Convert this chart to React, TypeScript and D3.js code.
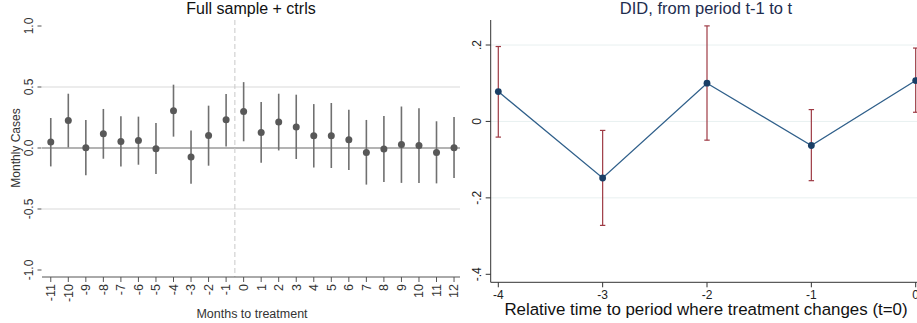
import React from 'react';
import * as d3 from 'd3';

// left panel: event study, monthly cases
const months = [-11, -10, -9, -8, -7, -6, -5, -4, -3, -2, -1, 0, 1, 2, 3, 4, 5, 6, 7, 8, 9, 10, 11, 12];
const coef = [0.049, 0.226, 0.002, 0.117, 0.054, 0.062, -0.006, 0.306, -0.074, 0.103, 0.232, 0.3, 0.128, 0.213, 0.172, 0.1, 0.1, 0.068, -0.036, -0.008, 0.028, 0.02, -0.036, 0.003];
const ciHi = [0.246, 0.445, 0.23, 0.32, 0.26, 0.257, 0.205, 0.519, 0.144, 0.347, 0.443, 0.54, 0.377, 0.445, 0.437, 0.36, 0.369, 0.314, 0.23, 0.262, 0.34, 0.326, 0.219, 0.255];
const ciLo = [-0.151, 0.005, -0.224, -0.088, -0.151, -0.137, -0.213, 0.093, -0.293, -0.145, 0.013, 0.055, -0.12, -0.02, -0.09, -0.16, -0.164, -0.18, -0.3, -0.278, -0.286, -0.286, -0.29, -0.246];
const leftTicks = [-1, -0.5, 0, 0.5, 1];

// right panel: DID t-1 to t
const relTime = [-4, -3, -2, -1, 0];
const did = [0.078, -0.148, 0.1, -0.063, 0.107];
const didHi = [0.196, -0.0235, 0.25, 0.031, 0.192];
const didLo = [-0.041, -0.272, -0.049, -0.155, 0.024];
const rightTicks = [-0.4, -0.2, 0, 0.2];
const rightTickLabels = ['-.4', '-.2', '0', '.2'];

const font = '"Liberation Sans", Arial, Helvetica, sans-serif';

function LeftPanel() {
  const x = d3.scaleLinear().domain([-11.5, 12.34]).range([42, 460]);
  const y = d3.scaleLinear().domain([-1, 1]).range([270, 26]);
  const top = 20, bottom = 277;
  return (
    <g>
      <text x={251} y={14} textAnchor="middle" fontSize={16} fill="#111">Full sample + ctrls</text>
      {[0.5, -0.5].map(v => (
        <line key={v} x1={42} x2={460} y1={y(v)} y2={y(v)} stroke="#e6e6e6" strokeWidth={1.5} />
      ))}
      <line x1={42} x2={460} y1={y(0)} y2={y(0)} stroke="#9a9a9a" strokeWidth={1.5} />
      <line x1={x(-0.5)} x2={x(-0.5)} y1={top} y2={bottom} stroke="#c8c8c8" strokeWidth={1} strokeDasharray="5,3" />
      {leftTicks.map(v => (
        <g key={v}>
          <line x1={37.5} x2={41.5} y1={y(v)} y2={y(v)} stroke="#555" />
          <text transform={`translate(33,${y(v)}) rotate(-90)`} textAnchor="middle" fontSize={12} fill="#333">{v.toFixed(1)}</text>
        </g>
      ))}
      <text transform={`translate(20,148) rotate(-90)`} textAnchor="middle" fontSize={12} fill="#333">Monthly Cases</text>
      <line x1={42} x2={460} y1={bottom} y2={bottom} stroke="#555" strokeWidth={1} />
      {months.map(m => (
        <g key={m}>
          <line x1={x(m)} x2={x(m)} y1={bottom} y2={bottom + 5} stroke="#555" />
          <text transform={`translate(${x(m)},${bottom + 7}) rotate(-90)`} textAnchor="end" dy="0.35em" fontSize={12.5} fill="#333">{m}</text>
        </g>
      ))}
      <text x={252} y={318} textAnchor="middle" fontSize={12.5} fill="#333">Months to treatment</text>
      {months.map((m, i) => (
        <line key={'ci' + m} x1={x(m)} x2={x(m)} y1={y(ciHi[i])} y2={y(ciLo[i])} stroke="#707070" strokeWidth={1.6} />
      ))}
      {months.map((m, i) => (
        <circle key={'pt' + m} cx={x(m)} cy={y(coef[i])} r={3.5} fill="#585858" />
      ))}
    </g>
  );
}

function RightPanel() {
  const x = d3.scaleLinear().domain([-4, 0]).range([498.3, 915.7]);
  const y = d3.scaleLinear().domain([-0.4, 0.2]).range([274.3, 45]);
  const left = 490.7, top = 20, bottom = 282.3;
  const line = d3.line<number>().x((_, i) => x(relTime[i])).y(d => y(d));
  return (
    <g>
      <text x={706} y={14} textAnchor="middle" fontSize={16.5} fill="#1e2d4f">DID, from period t-1 to t</text>
      {[0.2, 0, -0.2].map(v => (
        <line key={v} x1={left} x2={917} y1={y(v)} y2={y(v)} stroke="#e8f0f0" strokeWidth={1} />
      ))}
      <line x1={left} x2={left} y1={top} y2={bottom} stroke="#333" strokeWidth={1} />
      <line x1={left} x2={917} y1={bottom} y2={bottom} stroke="#333" strokeWidth={1} />
      {rightTicks.map((v, i) => (
        <g key={v}>
          <line x1={left - 5} x2={left} y1={y(v)} y2={y(v)} stroke="#333" />
          <text transform={`translate(481,${y(v)}) rotate(-90)`} textAnchor="middle" fontSize={12} fill="#222">{rightTickLabels[i]}</text>
        </g>
      ))}
      {relTime.map(t => (
        <g key={t}>
          <line x1={x(t)} x2={x(t)} y1={bottom} y2={bottom + 5} stroke="#333" />
          <text x={x(t)} y={298.5} textAnchor="middle" fontSize={12} fill="#222">{t}</text>
        </g>
      ))}
      <text x={706} y={315} textAnchor="middle" fontSize={16.9} fill="#111">Relative time to period where treatment changes (t=0)</text>
      {relTime.map((t, i) => (
        <g key={'ci' + t} stroke="#9e3a44" strokeWidth={1.2}>
          <line x1={x(t)} x2={x(t)} y1={y(didHi[i])} y2={y(didLo[i])} />
          <line x1={x(t) - 2.7} x2={x(t) + 2.7} y1={y(didHi[i])} y2={y(didHi[i])} />
          <line x1={x(t) - 2.7} x2={x(t) + 2.7} y1={y(didLo[i])} y2={y(didLo[i])} />
        </g>
      ))}
      <path d={line(did) || ''} fill="none" stroke="#2f5f8a" strokeWidth={1.3} />
      {relTime.map((t, i) => (
        <circle key={'pt' + t} cx={x(t)} cy={y(did[i])} r={3.4} fill="#1a3f66" />
      ))}
    </g>
  );
}

export default function App() {
  return (
    <svg width={917} height={323} fontFamily={font} style={{ position: 'absolute', left: 0, top: 0, background: '#fff', fontFamily: font }}>
      <rect width={917} height={323} fill="#fff" />
      <LeftPanel />
      <RightPanel />
    </svg>
  );
}
